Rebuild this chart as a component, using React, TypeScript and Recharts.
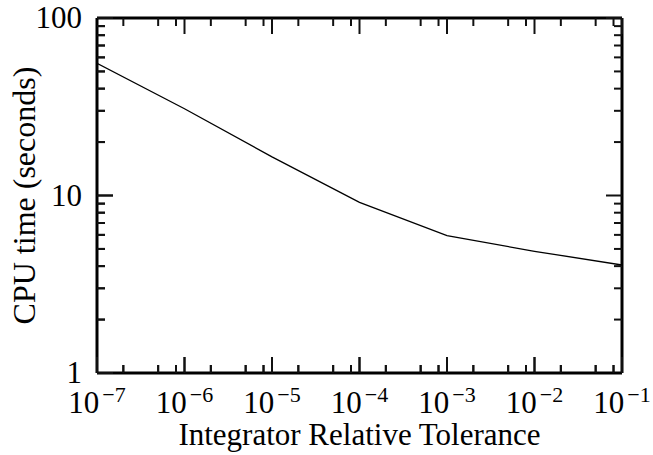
import React from "react";
import { LineChart, Line, XAxis, YAxis, Label, ReferenceLine } from "recharts";

// values
const tolerances = [1e-7, 1e-6, 1e-5, 1e-4, 1e-3, 1e-2, 1e-1];
const cpuTimes = [55.6, 30.8, 16.5, 9.15, 5.94, 4.85, 4.06];

const xMajorTicks = [1e-7, 1e-6, 1e-5, 1e-4, 1e-3, 1e-2, 1e-1];
const xMinorFactors = [2, 5, 8];
const yMajorTicks = [1, 10, 100];
const yMinorFactors = [2, 3, 4, 5, 6, 7, 8, 9];

const FONT = "'Liberation Serif', 'Times New Roman', Times, serif";
const TICK_COLOR = "#111";

const W = 653;
const H = 455;
const MARGIN = { top: 18, right: 31, bottom: 0, left: 17 };
const X_AXIS_H = 82;
const Y_AXIS_W = 80;
const PLOT_W = W - MARGIN.left - MARGIN.right - Y_AXIS_W;
const PLOT_H = H - MARGIN.top - MARGIN.bottom - X_AXIS_H;

const X_MIN = xMajorTicks[0];
const X_MAX = xMajorTicks[xMajorTicks.length - 1];
const Y_MIN = yMajorTicks[0];
const Y_MAX = yMajorTicks[yMajorTicks.length - 1];
const X_DECADES = Math.log10(X_MAX / X_MIN);
const Y_DECADES = Math.log10(Y_MAX / Y_MIN);

// tick lengths in pixels, and the same lengths as log factors for the scales
const MAJOR_LEN = 16;
const MINOR_LEN = 8;
const yFactor = (px: number) => Math.pow(10, (px / PLOT_H) * Y_DECADES);
const xFactor = (px: number) => Math.pow(10, (px / PLOT_W) * X_DECADES);

const chartData = tolerances.map((t, i) => ({ tol: t, cpu: cpuTimes[i] }));

const xMinorTicks = xMajorTicks.slice(0, -1).flatMap((d) => xMinorFactors.map((f) => f * d));
const yMinorTicks = yMajorTicks.slice(0, -1).flatMap((d) => yMinorFactors.map((f) => f * d));
const xAllTicks = [...xMajorTicks, ...xMinorTicks];
const yAllTicks = [...yMajorTicks, ...yMinorTicks];
const xMajorSet = new Set(xMajorTicks);
const yMajorSet = new Set(yMajorTicks);
const xTickMarks = xAllTicks.map((v) => ({ v, len: xMajorSet.has(v) ? MAJOR_LEN : MINOR_LEN }));
const yTickMarks = yAllTicks.map((v) => ({ v, len: yMajorSet.has(v) ? MAJOR_LEN : MINOR_LEN }));

function BottomTick(props: any) {
  const x = Number(props.x);
  const y = Number(props.y);
  const major = xMajorSet.has(props.payload.value);
  const exp = Math.round(Math.log10(props.payload.value));
  const len = major ? MAJOR_LEN : MINOR_LEN;
  return (
    <g>
      <line x1={x} x2={x} y1={y} y2={y - len} stroke={TICK_COLOR} strokeWidth={2} />
      {major && (
        <text x={x} y={y + 40} textAnchor="middle" fontFamily={FONT} fontSize={31} fill="#000">
          10
          <tspan dy={-11} dx={3} fontSize={22}>
            {"\u2212" + Math.abs(exp)}
          </tspan>
        </text>
      )}
    </g>
  );
}

function LeftTick(props: any) {
  const x = Number(props.x);
  const y = Number(props.y);
  const major = yMajorSet.has(props.payload.value);
  const len = major ? MAJOR_LEN : MINOR_LEN;
  return (
    <g>
      <line x1={x} x2={x + len} y1={y} y2={y} stroke={TICK_COLOR} strokeWidth={2} />
      {major && (
        <text x={x - 15} y={y + 10} textAnchor="end" fontFamily={FONT} fontSize={31} fill="#000">
          {props.payload.value}
        </text>
      )}
    </g>
  );
}

const frame = { stroke: "#000", strokeWidth: 3 };

export default function App() {
  return (
    <div style={{ position: "absolute", left: 0, top: 0, background: "#fff" }}>
      <LineChart width={W} height={H} data={chartData} margin={MARGIN}>
        <XAxis
          dataKey="tol"
          type="number"
          scale="log"
          domain={[X_MIN, X_MAX]}
          allowDataOverflow
          ticks={xAllTicks}
          interval={0}
          tickLine={false}
          tickSize={0}
          tickMargin={0}
          tick={BottomTick}
          axisLine={frame}
          height={X_AXIS_H}
        >
          <Label
            content={({ viewBox }: any) => (
              <text
                x={viewBox.x + viewBox.width / 2}
                y={viewBox.y + 72}
                textAnchor="middle"
                fontFamily={FONT}
                fontSize={31}
                fill="#000"
              >
                Integrator Relative Tolerance
              </text>
            )}
          />
        </XAxis>
        <YAxis
          type="number"
          scale="log"
          domain={[Y_MIN, Y_MAX]}
          allowDataOverflow
          ticks={yAllTicks}
          interval={0}
          tickLine={false}
          tickSize={0}
          tickMargin={0}
          tick={LeftTick}
          axisLine={frame}
          width={Y_AXIS_W}
        >
          <Label
            content={({ viewBox }: any) => {
              const cx = viewBox.x + 18;
              const cy = viewBox.y + viewBox.height / 2;
              return (
                <text
                  x={cx}
                  y={cy}
                  transform={`rotate(-90 ${cx} ${cy})`}
                  textAnchor="middle"
                  fontFamily={FONT}
                  fontSize={32}
                  fill="#000"
                >
                  CPU time (seconds)
                </text>
              );
            }}
          />
        </YAxis>

        {/* top and right edges of the frame */}
        <ReferenceLine y={Y_MAX} stroke="#000" strokeWidth={3} ifOverflow="visible" />
        <ReferenceLine x={X_MAX} stroke="#000" strokeWidth={3} ifOverflow="visible" />

        {/* inward tick marks on the top and right edges, plus bottom/left as a fallback */}
        {xTickMarks.map(({ v, len }) => (
          <ReferenceLine
            key={`t${v}`}
            segment={[{ x: v, y: Y_MAX }, { x: v, y: Y_MAX / yFactor(len) }]}
            stroke={TICK_COLOR}
            strokeWidth={2}
            ifOverflow="visible"
          />
        ))}
        {xTickMarks.map(({ v, len }) => (
          <ReferenceLine
            key={`b${v}`}
            segment={[{ x: v, y: Y_MIN }, { x: v, y: Y_MIN * yFactor(len) }]}
            stroke={TICK_COLOR}
            strokeWidth={2}
            ifOverflow="visible"
          />
        ))}
        {yTickMarks.map(({ v, len }) => (
          <ReferenceLine
            key={`r${v}`}
            segment={[{ x: X_MAX, y: v }, { x: X_MAX / xFactor(len), y: v }]}
            stroke={TICK_COLOR}
            strokeWidth={2}
            ifOverflow="visible"
          />
        ))}
        {yTickMarks.map(({ v, len }) => (
          <ReferenceLine
            key={`l${v}`}
            segment={[{ x: X_MIN, y: v }, { x: X_MIN * xFactor(len), y: v }]}
            stroke={TICK_COLOR}
            strokeWidth={2}
            ifOverflow="visible"
          />
        ))}

        <Line type="linear" dataKey="cpu" stroke="#000" strokeWidth={1.3} dot={false} isAnimationActive={false} />
      </LineChart>
    </div>
  );
}
